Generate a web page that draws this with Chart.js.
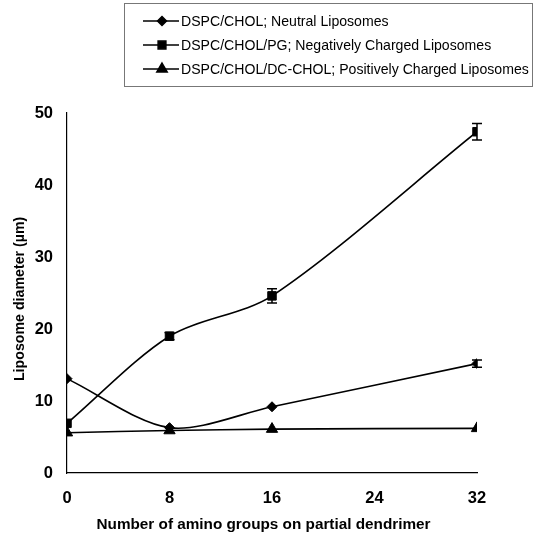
<!DOCTYPE html>
<html>
<head>
<meta charset="utf-8">
<script src="https://cdn.jsdelivr.net/npm/chart.js@4"></script>
<style>
  html, body { margin: 0; padding: 0; background: #fff; }
  #wrap { position: relative; width: 536px; height: 534px; }
</style>
</head>
<body>
<div id="wrap"><canvas id="chart" width="536" height="534"></canvas></div>
<script>
const aminoGroups = [0, 8, 16, 32];
const xTicks = [0, 8, 16, 24, 32];

const seriesLabels = [
    'DSPC/CHOL; Neutral Liposomes',
    'DSPC/CHOL/PG; Negatively Charged Liposomes',
    'DSPC/CHOL/DC-CHOL; Positively Charged Liposomes'
];
const neutral = [13.1, 6.3, 9.2, 15.2];
const negative = [6.9, 19.0, 24.6, 47.4];
const positive = [5.6, 5.9, 6.1, 6.2];

const neutralErr = [0.3, 0.3, 0.3, 0.5];
const negativeErr = [0.4, 0.5, 1.0, 1.15];
const positiveErr = [0.2, 0.2, 0.2, 0.2];

const markers = ['rectRot', 'rect', 'triangle'];
const markerSizes = [5, 6, 6.5];

function toPoints(vals, errs) {
    return aminoGroups.map((x, i) => ({ x: x, y: vals[i], err: errs[i] }));
}

const errorBars = {
    id: 'errorBars',
    afterDatasetsDraw(chart) {
        const ctx = chart.ctx;
        const ys = chart.scales.y, xs = chart.scales.x;
        ctx.save();
        ctx.strokeStyle = '#000';
        ctx.lineWidth = 1.5;
        chart.data.datasets.forEach(ds => {
            ds.data.forEach(p => {
                if (p.err < 0.45) return;
                const px = xs.getPixelForValue(p.x);
                const top = ys.getPixelForValue(p.y + p.err);
                const bot = ys.getPixelForValue(p.y - p.err);
                ctx.beginPath();
                ctx.moveTo(px, top); ctx.lineTo(px, bot);
                ctx.moveTo(px - 5, top); ctx.lineTo(px + 5, top);
                ctx.moveTo(px - 5, bot); ctx.lineTo(px + 5, bot);
                ctx.stroke();
            });
        });
        ctx.restore();
    }
};

const legendBox = {
    id: 'legendBox',
    afterDraw(chart) {
        const ctx = chart.ctx;
        ctx.save();
        ctx.strokeStyle = '#777';
        ctx.lineWidth = 1;
        ctx.strokeRect(124.5, 3.5, 408, 83);
        ctx.font = '14.1px "Liberation Sans", Arial, sans-serif';
        ctx.textBaseline = 'middle';
        ctx.fillStyle = '#000';
        chart.data.datasets.forEach((ds, i) => {
            const y = 21 + i * 24;
            ctx.strokeStyle = '#000';
            ctx.lineWidth = 1.5;
            ctx.beginPath();
            ctx.moveTo(143, y); ctx.lineTo(179, y);
            ctx.stroke();
            Chart.helpers.drawPoint(ctx, {
                pointStyle: ds.pointStyle,
                radius: ds.pointRadius - 0.5,
                borderWidth: 1
            }, 162, y);
            ctx.fillText(ds.label, 181, y + 1);
        });
        ctx.restore();
    }
};

const datasets = [neutral, negative, positive].map((vals, i) => ({
    label: seriesLabels[i],
    data: toPoints(vals, [neutralErr, negativeErr, positiveErr][i]),
    borderColor: '#000',
    backgroundColor: '#000',
    borderWidth: 1.6,
    tension: 0.3,
    pointStyle: markers[i],
    pointRadius: markerSizes[i],
    pointBackgroundColor: '#000',
    pointBorderColor: '#000',
    pointBorderWidth: 1,
    fill: false
}));

const tickFont = { family: '"Liberation Sans", Arial, sans-serif', size: 16.5, weight: 'bold' };

new Chart(document.getElementById('chart').getContext('2d'), {
    type: 'line',
    data: { datasets: datasets },
    options: {
        responsive: false,
        animation: false,
        layout: { padding: { top: 113, right: 59, left: 0, bottom: 0 } },
        plugins: { legend: { display: false }, tooltip: { enabled: false } },
        scales: {
            x: {
                type: 'linear',
                min: 0, max: 32,
                afterBuildTicks: s => { s.ticks = xTicks.map(v => ({ value: v })); },
                afterFit: s => { s.height = 61; },
                border: { color: '#000', width: 1.2 },
                grid: { display: false, drawOnChartArea: false, drawTicks: true, tickLength: 6, color: '#000' },
                ticks: { color: '#000', font: tickFont, padding: 10, maxRotation: 0 },
                title: {
                    display: true, text: 'Number of amino groups on partial dendrimer    ', color: '#000',
                    font: { family: '"Liberation Sans", Arial, sans-serif', size: 15.3, weight: 'bold' },
                    padding: { top: 5, bottom: 0 }
                }
            },
            y: {
                min: 0, max: 50,
                afterFit: s => { s.width = 67; },
                border: { color: '#000', width: 1.2 },
                grid: { display: false, drawOnChartArea: false, drawTicks: true, tickLength: 6, color: '#000' },
                ticks: { stepSize: 10, color: '#000', font: tickFont, padding: 8 },
                title: {
                    display: true, text: 'Liposome diameter (µm)   ', color: '#000',
                    font: { family: '"Liberation Sans", Arial, sans-serif', size: 14.2, weight: 'bold' },
                    padding: { top: 12, bottom: 4 }
                }
            }
        }
    },
    plugins: [errorBars, legendBox]
});
</script>
</body>
</html>
